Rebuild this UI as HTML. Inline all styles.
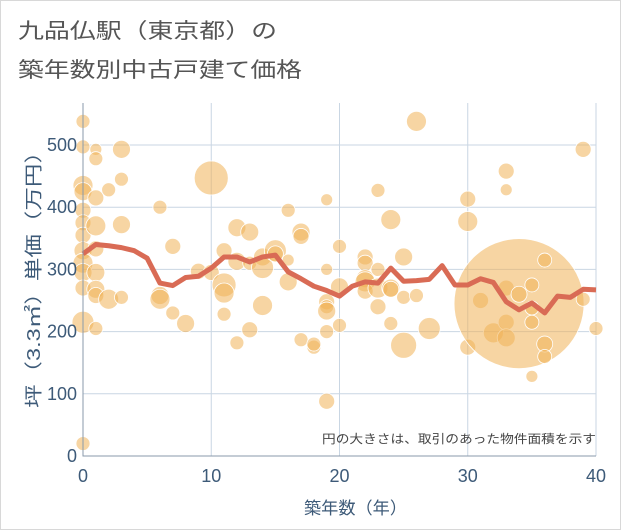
<!DOCTYPE html>
<html><head><meta charset="utf-8">
<style>
html,body{margin:0;padding:0;background:#fff;}
body{width:621px;height:530px;overflow:hidden;font-family:"Liberation Sans","Noto Sans CJK JP",sans-serif;}
#frame{position:absolute;left:0;top:0;width:619px;height:528px;border:1px solid #d8d8d8;}
</style></head>
<body>
<div id="frame"></div>
<svg id="chart" width="621" height="530" style="position:absolute;left:0;top:0">
<text x="18" y="38" font-size="21" fill="#555" textLength="259" lengthAdjust="spacingAndGlyphs" font-family="Liberation Sans,Noto Sans CJK JP,sans-serif">九品仏駅（東京都）の</text>
<text x="18" y="77" font-size="21" fill="#555" textLength="284" lengthAdjust="spacingAndGlyphs" font-family="Liberation Sans,Noto Sans CJK JP,sans-serif">築年数別中古戸建て価格</text>
<g id="grid"></g><g id="bubbles"></g><g id="line"></g><g id="axes"></g>
<text x="322" y="443" font-size="12" fill="#444" textLength="274" lengthAdjust="spacingAndGlyphs" font-family="Liberation Sans,Noto Sans CJK JP,sans-serif">円の大きさは、取引のあった物件面積を示す</text>
<text x="304" y="514" font-size="17" fill="#3d5a78" textLength="103" lengthAdjust="spacingAndGlyphs" font-family="Liberation Sans,Noto Sans CJK JP,sans-serif">築年数（年）</text>
<text transform="translate(40,408) rotate(-90)" font-size="18" fill="#3d5a78" textLength="268" lengthAdjust="spacingAndGlyphs" font-family="Liberation Sans,Noto Sans CJK JP,sans-serif">坪（3.3㎡）単価（万円）</text>
</svg>
<script>
const xTicks=[0,10,20,30,40];
const yTicks=[0,100,200,300,400,500];
const lineYears=[0,1,2,3,4,5,6,7,8,9,10,11,12,13,14,15,16,17,18,19,20,21,22,23,24,25,26,27,28,29,30,31,32,33,34,35,36,37,38,39,40];
const lineValues=[325,340,338,335,330,318,278,274,287,289,302,320,320,312,320,323,296,285,273,266,257,273,280,278,302,281,282,284,306,275,275,285,279,248,235,246,230,257,255,268,267];
const bubbleYears=[0,0,0,0,0,0,0,0,0,0,0,0,0,1,1,1,1,1,1,1,1,1,2,2,3,3,3,3,6,6,6,7,7,8,9,10,10,11,11,11,11,12,12,12,13,13,13,14,14,14,15,15,16,16,16,17,17,17,18,18,19,19,19,19,19,19,19,20,20,20,22,22,22,22,22,23,23,23,23,24,24,24,24,25,25,25,26,26,27,30,30,30,31,32,33,33,33,33,33,34,34,35,35,35,35,36,36,36,39,39,40];
const bubbleValues=[538,497,435,425,395,375,355,330,310,295,270,215,20,493,478,415,370,333,295,268,258,205,428,252,493,445,372,255,400,258,252,337,230,213,297,447,295,330,275,262,228,367,313,182,360,310,203,320,303,242,330,325,395,315,280,360,353,187,175,180,412,300,248,240,233,200,88,337,272,210,320,310,285,280,265,427,300,270,240,380,270,268,213,320,255,178,538,258,205,413,377,175,250,198,458,428,270,215,190,245,260,275,238,215,128,315,180,160,493,252,205];
const bubbleSizes=[7,7,10,9,8,8,8,9,10,9,8,11,7,6,7,8,10,8,9,9,8,7,7,10,9,7,9,7,7,9,10,8,7,9,8,17,8,8,12,10,7,9,9,7,9,7,8,9,11,10,11,8,7,6,9,9,8,7,7,7,6,6,8,7,9,7,8,7,9,7,8,8,9,10,8,7,7,10,8,10,9,8,7,9,7,13,10,7,11,8,10,8,8,10,8,6,8,8,9,65,8,7,7,7,6,7,8,7,8,7,7];
const NS="http://www.w3.org/2000/svg";
const L=83,R=596,T=103,B=456;
const xs=v=>L+(R-L)*v/40;
const ys=v=>B-(B-145)*v/500;
const grid=document.getElementById('grid'),axes=document.getElementById('axes');
function mk(tag,attrs,parent){const e=document.createElementNS(NS,tag);for(const k in attrs)e.setAttribute(k,attrs[k]);parent.appendChild(e);return e;}
xTicks.forEach(t=>{
 const g=mk('line',{x1:xs(t),x2:xs(t),y1:T,y2:B,stroke:'#c9d6e3','stroke-width':1},grid);
 
 
 const tx=mk('text',{x:xs(t),y:B+26,'font-size':18,fill:'#3d5a78','text-anchor':'middle'},axes);
 tx.textContent=t;
 
 
});
yTicks.forEach(t=>{
 const g=mk('line',{x1:L,x2:R,y1:ys(t),y2:ys(t),stroke:'#c9d6e3','stroke-width':1},grid);
 
 
 const tx=mk('text',{x:L-6,y:ys(t)+6,'font-size':18,fill:'#3d5a78','text-anchor':'end'},axes);
 tx.textContent=t;
 
 
});
const ax=mk('path',{d:`M${L},${T} V${B} H${R}`,fill:'none',stroke:'#8a9aab','stroke-width':1},axes);


const bg=document.getElementById('bubbles');
bubbleYears.forEach((yr,i)=>{
 const c=mk('circle',{cx:xs(yr),cy:ys(bubbleValues[i]),r:bubbleSizes[i],fill:'rgb(240,178,88)','fill-opacity':0.55,stroke:'#fff','stroke-width':0.8},bg);
 
 
});
const pts=lineYears.map((yr,i)=>xs(yr)+','+ys(lineValues[i])).join(' ');
const pl=mk('polyline',{points:pts,fill:'none',stroke:'#d96b55','stroke-width':5,'stroke-linejoin':'round'},document.getElementById('line'));


</script>
</body></html>
